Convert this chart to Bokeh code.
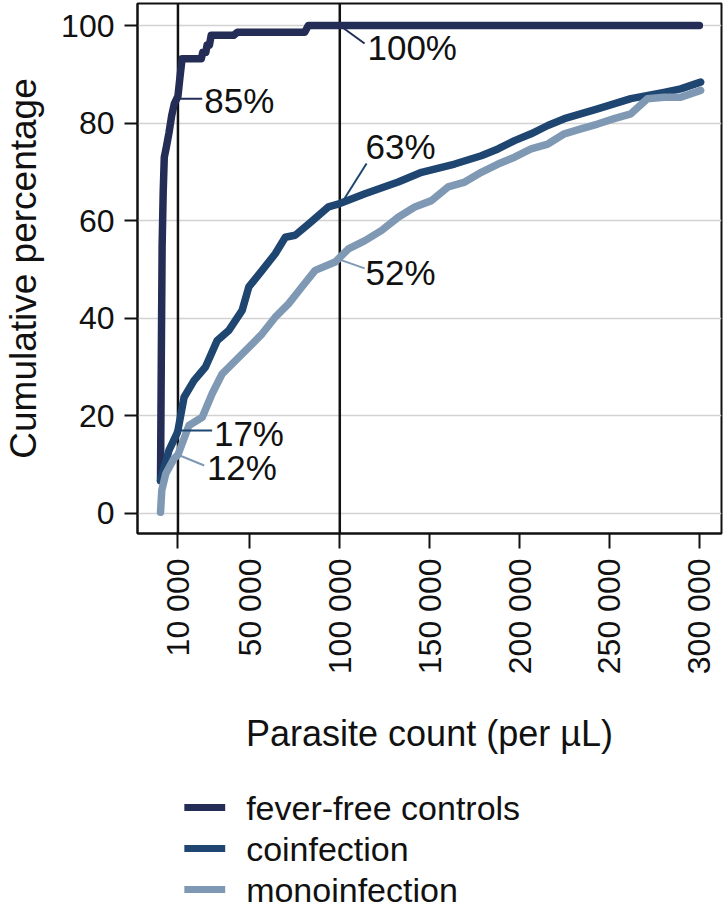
import math
from bokeh.plotting import figure
from bokeh.layouts import column
from bokeh.models import ColumnDataSource, Span, FixedTicker, Range1d
from bokeh.core.properties import value
from bokeh.embed import file_html
from bokeh.resources import INLINE

# ---------------- data ----------------
controls_count = [300, 800, 1200, 1800, 2400, 3500, 5000, 6500, 8000, 10000, 11000,
                  12300, 23000, 23800, 25500, 26200, 27500, 28500, 41000, 43000,
                  80500, 82500, 300000]
controls_pct = [6.7, 35, 55, 66, 73, 75, 78, 81.5, 84, 85.5, 89,
                93.2, 93.2, 94.5, 94.5, 96, 96, 98, 98, 98.6,
                98.6, 100, 100]

coinf_count = [300, 5000, 9600, 10000, 13400, 18900, 25300, 31800, 38300, 45700,
               49400, 56800, 64100, 69700, 75200, 82600, 93700, 100000, 114000,
               132500, 145500, 163900, 178700, 188000, 197200, 206400, 215700,
               224900, 243400, 261900, 280300, 289600, 300700]
coinf_pct = [6.7, 12.9, 16.5, 17, 23.8, 27.2, 30, 35.4, 37.5, 41.6,
             46.4, 49.8, 53.2, 56.6, 57, 59.3, 62.8, 63.5, 65.5,
             67.9, 69.9, 71.6, 73.3, 74.7, 76.4, 77.8, 79.5,
             80.9, 82.9, 85.0, 86.3, 87.0, 88.4]

mono_count = [300, 1000, 3200, 7800, 10000, 16100, 23500, 29000, 34600, 42000,
              49400, 56800, 64100, 71600, 78900, 86300, 97400, 104800, 114000,
              123300, 132500, 141700, 151000, 160300, 169500, 178700, 188000,
              197200, 206400, 215700, 224900, 234100, 243400, 252600, 261900,
              271100, 280300, 289600, 300700]
mono_pct = [0.2, 4.7, 8.1, 11.2, 12, 18, 19.7, 24.5, 28.6, 31.3,
            34, 36.8, 40.2, 43, 46.4, 49.8, 51.5, 54.2, 55.9,
            58, 60.7, 62.8, 64.1, 66.9, 67.9, 69.9, 71.6,
            73, 74.7, 75.7, 77.8, 78.8, 79.8, 80.9, 81.9,
            85, 85.3, 85.3, 86.7]

series_names = ["fever-free controls", "coinfection", "monoinfection"]
series_colors = ["#242d56", "#1f4671", "#7f99b4"]

thresholds = [10000, 100000]
x_ticks = [10000, 50000, 100000, 150000, 200000, 250000, 300000]
x_tick_labels = ["10 000", "50 000", "100 000", "150 000", "200 000", "250 000", "300 000"]
y_ticks = [0, 20, 40, 60, 80, 100]

# annotations: value read at thresholds
ann_series = [0, 1, 2, 0, 1, 2]
ann_x = [10000, 10000, 10000, 100000, 100000, 100000]
ann_pct = [85, 17, 12, 100, 63, 52]

# layout of annotation leaders/labels (positions, not data)
lead_end_x = [23500, 29000, 24600, 113800, 114900, 113800]
lead_end_y = [85.0, 17.0, 9.8, 96.3, 71.7, 50.2]
label_x = [24600, 30000, 26100, 115400, 114300, 114300]
label_y = [84.6, 16.4, 9.4, 95.5, 75.2, 49.4]

FONT = value("Liberation Sans")
FRAME_L, FRAME_R = 135, 721

# ---------------- main figure ----------------
p = figure(width=724, height=770, output_backend="svg", toolbar_location=None,
           x_range=Range1d(-12500, 312300), y_range=Range1d(-4.14, 104.51),
           min_border_left=FRAME_L, min_border_right=724 - FRAME_R, min_border_top=3,
           min_border_bottom=237)
p.background_fill_color = "white"
p.border_fill_color = "white"
p.outline_line_color = "#111111"
p.outline_line_width = 2

p.xgrid.visible = False
p.ygrid.grid_line_color = "#d2d2d2"
p.ygrid.grid_line_width = 1.5
p.ygrid.ticker = FixedTicker(ticks=y_ticks)

# y axis
ya = p.yaxis[0]
ya.ticker = FixedTicker(ticks=y_ticks)
ya.axis_label = "Cumulative percentage"
ya.axis_label_text_font = "Liberation Sans"
ya.axis_label_text_font_size = "37px"
ya.axis_label_text_font_style = "normal"
ya.axis_label_text_color = "#111111"
ya.axis_label_standoff = 14
ya.major_label_text_font = "Liberation Sans"
ya.major_label_text_font_size = "32px"
ya.major_label_text_color = "#111111"
ya.major_label_standoff = 10
ya.major_tick_out = 13
ya.major_tick_in = 0
ya.major_tick_line_width = 2
ya.major_tick_line_color = "#111111"
ya.minor_tick_line_color = None
ya.axis_line_color = "#111111"
ya.axis_line_width = 2

# x axis
xa = p.xaxis[0]
xa.ticker = FixedTicker(ticks=x_ticks)
xa.major_label_overrides = {t: l for t, l in zip(x_ticks, x_tick_labels)}
xa.major_label_orientation = math.pi / 2
xa.axis_label = "Parasite count (per µL)"
xa.axis_label_text_font = "Liberation Sans"
xa.axis_label_text_font_size = "36px"
xa.axis_label_text_font_style = "normal"
xa.axis_label_text_color = "#111111"
xa.axis_label_standoff = 36
xa.major_label_text_font = "Liberation Sans"
xa.major_label_text_font_size = "32px"
xa.major_label_text_color = "#111111"
xa.major_label_standoff = 10
xa.major_tick_out = 15
xa.major_tick_in = 0
xa.major_tick_line_width = 2
xa.major_tick_line_color = "#111111"
xa.minor_tick_line_color = None
xa.axis_line_color = "#111111"
xa.axis_line_width = 2

# threshold lines
for t in thresholds:
    p.add_layout(Span(location=t, dimension="height", line_color="#111111",
                      line_width=2.5, level="underlay"))

# curves
curves = [(controls_count, controls_pct), (coinf_count, coinf_pct), (mono_count, mono_pct)]
for (xs, ys), col in zip(curves, series_colors):
    p.line(xs, ys, line_color=col, line_width=7.5, line_cap="round", line_join="round")

# annotation leaders and labels
ann_src = ColumnDataSource(dict(
    x0=ann_x, y0=ann_pct, x1=lead_end_x, y1=lead_end_y,
    lx=label_x, ly=label_y,
    text=[f"{v}%" for v in ann_pct],
    color=[series_colors[i] for i in ann_series],
))
p.segment(x0="x0", y0="y0", x1="x1", y1="y1", line_color="color", line_width=2,
          source=ann_src)
p.text(x="lx", y="ly", text="text", source=ann_src, text_font=FONT,
       text_font_size="35px", text_baseline="middle", text_align="left",
       text_color="#111111")

# ---------------- legend strip (pixel-space layout, frame aligned with p) ----------------
LG_H = 138
lg = figure(width=724, height=LG_H, output_backend="svg", toolbar_location=None,
            x_range=Range1d(FRAME_L, FRAME_R), y_range=Range1d(LG_H, 0),
            min_border_left=FRAME_L, min_border_right=724 - FRAME_R,
            min_border_top=0, min_border_bottom=0,
            x_axis_location=None, y_axis_location=None)
lg.grid.visible = False
lg.outline_line_color = None
lg.background_fill_color = "white"
lg.border_fill_color = "white"

sw_x0, sw_x1, txt_x = 182, 223, 244
row0, row_step = 37, 41
rows = [row0 + row_step * i for i in range(len(series_names))]
leg_src = ColumnDataSource(dict(
    x0=[sw_x0] * len(rows), x1=[sw_x1] * len(rows), y=rows,
    tx=[txt_x] * len(rows), name=series_names, color=series_colors,
))
lg.segment(x0="x0", y0="y", x1="x1", y1="y", line_color="color", line_width=7,
           line_cap="butt", source=leg_src)
lg.text(x="tx", y="y", text="name", source=leg_src, text_font=FONT,
        text_font_size="34px", text_baseline="middle", text_align="left",
        text_color="#111111")

layout = column(p, lg, spacing=0)
open("out.html", "w").write(file_html(layout, INLINE))
